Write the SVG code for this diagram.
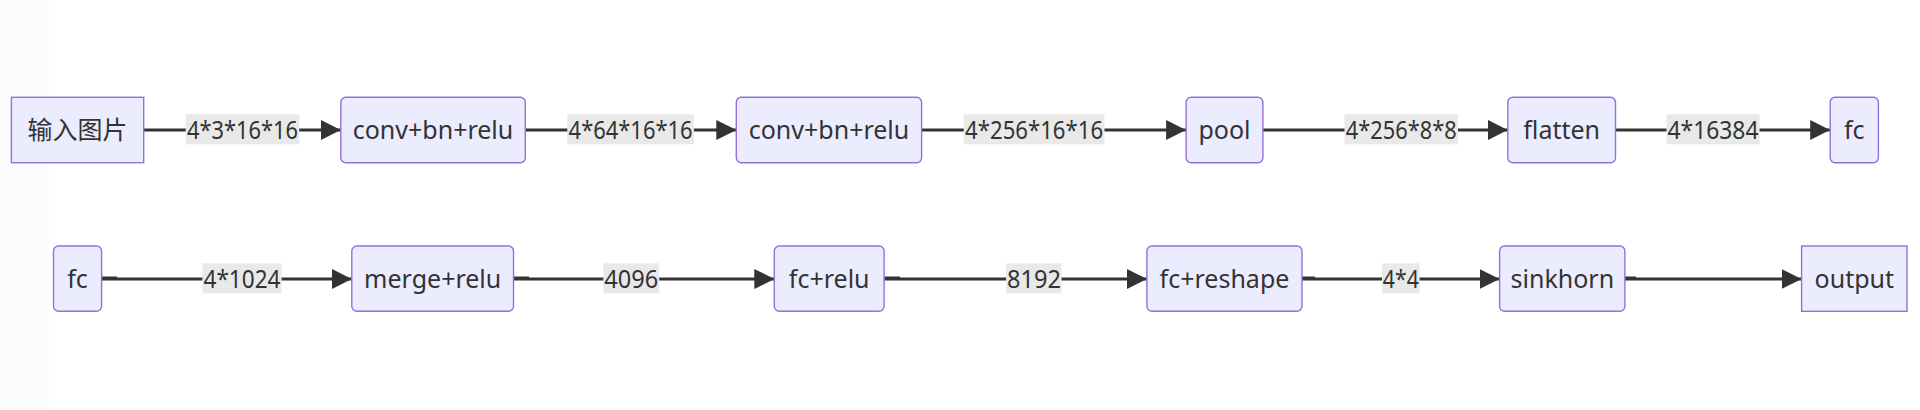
<svg xmlns="http://www.w3.org/2000/svg" width="1920" height="410" viewBox="0 0 1920 410">
<defs>
<style>
.node rect{fill:#ECECFF;stroke:#9370DB;stroke-width:1.4}
.node text{font-family:"Noto Sans","Noto Sans CJK SC",sans-serif;font-size:25px;fill:#333;text-anchor:middle}
.edge path{fill:none;stroke:#333;stroke-width:3}
.lbl rect{fill:#e9e9e9}
.lbl text{font-family:"Noto Sans",sans-serif;font-size:25px;fill:#333;text-anchor:middle}
</style>
<marker id="arr" markerUnits="userSpaceOnUse" viewBox="0 0 20 20" refX="20" refY="10" markerWidth="20" markerHeight="20" orient="auto">
<path d="M0,0 L20,10 L0,20 z" fill="#333"/>
</marker>
</defs>
<rect x="0" y="0" width="1920" height="410" fill="#fff"/>
<rect x="0" y="0" width="49" height="410" fill="#fcfcfc"/>

<g id="connectors">
<g class="edge">
<path d="M143.7,130 L340.8,130" marker-end="url(#arr)"/>
<path d="M525.3,130 L736.3,130" marker-end="url(#arr)"/>
<path d="M921.6,130 L1186.1,130" marker-end="url(#arr)"/>
<path d="M1262.9,130 L1507.8,130" marker-end="url(#arr)"/>
<path d="M1615.5,130 L1830.2,130" marker-end="url(#arr)"/>
<path d="M101.6,278 L117,278 M101.6,279 L351.8,279" marker-end="url(#arr)"/>
<path d="M513.5,278 L529,278 M513.5,279 L774.3,279" marker-end="url(#arr)"/>
<path d="M884.1,278 L900,278 M884.1,279 L1146.9,279" marker-end="url(#arr)"/>
<path d="M1302,278 L1315,278 M1302,279 L1499.6,279" marker-end="url(#arr)"/>
<path d="M1624.9,278 L1636,278 M1624.9,279 L1801.6,279" marker-end="url(#arr)"/>
</g>
<g class="lbl">
<rect x="185.7" y="114.3" width="113.5" height="30"/><text x="242.5" y="139" textLength="111" lengthAdjust="spacingAndGlyphs">4*3*16*16</text>
<rect x="567.3" y="114.3" width="126.6" height="30"/><text x="630.6" y="139" textLength="124" lengthAdjust="spacingAndGlyphs">4*64*16*16</text>
<rect x="963.7" y="114.3" width="140.8" height="30"/><text x="1034.1" y="139" textLength="138" lengthAdjust="spacingAndGlyphs">4*256*16*16</text>
<rect x="1344.5" y="114.3" width="113.5" height="30"/><text x="1401.3" y="139" textLength="111" lengthAdjust="spacingAndGlyphs">4*256*8*8</text>
<rect x="1666.5" y="114.3" width="93.1" height="30"/><text x="1713" y="139" textLength="91" lengthAdjust="spacingAndGlyphs">4*16384</text>
<rect x="202.4" y="263.3" width="79.2" height="30"/><text x="242" y="288" textLength="77" lengthAdjust="spacingAndGlyphs">4*1024</text>
<rect x="603.3" y="263.3" width="55.9" height="30"/><text x="631.2" y="288" textLength="54" lengthAdjust="spacingAndGlyphs">4096</text>
<rect x="1006.1" y="263.3" width="55.5" height="30"/><text x="1033.9" y="288" textLength="54" lengthAdjust="spacingAndGlyphs">8192</text>
<rect x="1382" y="263.3" width="37.6" height="30"/><text x="1400.8" y="288" textLength="36" lengthAdjust="spacingAndGlyphs">4*4</text>
</g>
</g>

<g id="n_input" class="node"><rect x="11.4" y="97.3" width="132.3" height="65.4"/><text x="77.5" y="139">输入图片</text></g>
<g id="n_conv1" class="node"><rect x="340.8" y="97.3" width="184.5" height="65.4" rx="5"/><text x="433" y="139">conv+bn+relu</text></g>
<g id="n_conv2" class="node"><rect x="736.3" y="97.3" width="185.3" height="65.4" rx="5"/><text x="829" y="139">conv+bn+relu</text></g>
<g id="n_pool" class="node"><rect x="1186.1" y="97.3" width="76.8" height="65.4" rx="5"/><text x="1224.5" y="139">pool</text></g>
<g id="n_flatten" class="node"><rect x="1507.8" y="97.3" width="107.7" height="65.4" rx="5"/><text x="1561.7" y="139">flatten</text></g>
<g id="n_fc1" class="node"><rect x="1830.2" y="97.3" width="48.2" height="65.4" rx="5"/><text x="1854.3" y="139">fc</text></g>

<g id="n_fc2" class="node"><rect x="53.5" y="246" width="48.1" height="65.3" rx="5"/><text x="77.5" y="288">fc</text></g>
<g id="n_merge" class="node"><rect x="351.8" y="246" width="161.7" height="65.3" rx="5"/><text x="432.7" y="288">merge+relu</text></g>
<g id="n_fcrelu" class="node"><rect x="774.3" y="246" width="109.8" height="65.3" rx="5"/><text x="829.2" y="288">fc+relu</text></g>
<g id="n_fcreshape" class="node"><rect x="1146.9" y="246" width="155.1" height="65.3" rx="5"/><text x="1224.5" y="288">fc+reshape</text></g>
<g id="n_sinkhorn" class="node"><rect x="1499.6" y="246" width="125.3" height="65.3" rx="5"/><text x="1562.3" y="288">sinkhorn</text></g>
<g id="n_output" class="node"><rect x="1801.6" y="246" width="105.4" height="65.3"/><text x="1854.3" y="288">output</text></g>
</svg>
